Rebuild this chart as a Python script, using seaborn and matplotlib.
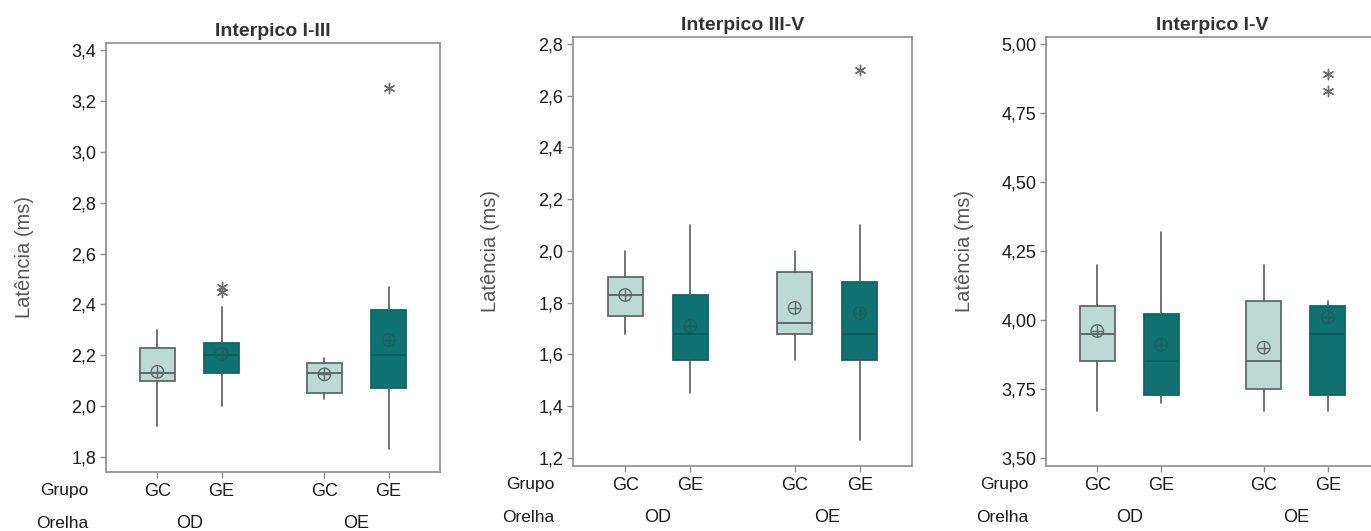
import numpy as np
import matplotlib.pyplot as plt
import seaborn as sns
from matplotlib.ticker import FuncFormatter

# categories
grupos = ['GC', 'GE', 'GC', 'GE']
orelhas = ['OD', 'OE']

# Interpico I-III (summary stats)
i_iii_q1 = [2.10, 2.13, 2.05, 2.07]
i_iii_med = [2.13, 2.20, 2.13, 2.20]
i_iii_q3 = [2.23, 2.25, 2.17, 2.38]
i_iii_lo = [1.92, 2.00, 2.03, 1.83]
i_iii_hi = [2.30, 2.39, 2.19, 2.47]
i_iii_mean = [2.135, 2.205, 2.125, 2.26]
i_iii_out = [[], [2.45, 2.47], [], [3.25]]

# Interpico III-V
iii_v_q1 = [1.75, 1.58, 1.68, 1.58]
iii_v_med = [1.83, 1.68, 1.72, 1.68]
iii_v_q3 = [1.90, 1.83, 1.92, 1.88]
iii_v_lo = [1.68, 1.45, 1.58, 1.27]
iii_v_hi = [2.00, 2.10, 2.00, 2.10]
iii_v_mean = [1.83, 1.71, 1.78, 1.76]
iii_v_out = [[], [], [], [2.70]]

# Interpico I-V
i_v_q1 = [3.85, 3.73, 3.75, 3.73]
i_v_med = [3.95, 3.85, 3.85, 3.95]
i_v_q3 = [4.05, 4.02, 4.07, 4.05]
i_v_lo = [3.67, 3.70, 3.67, 3.67]
i_v_hi = [4.20, 4.32, 4.20, 4.07]
i_v_mean = [3.96, 3.91, 3.90, 4.01]
i_v_out = [[], [], [], [4.83, 4.89]]

sns.set_style('white')
plt.rcParams['font.family'] = ['Liberation Sans', 'DejaVu Sans']

light = '#bcd9d4'
dark = '#0f7170'
edge_light = '#5d6b69'
edge_dark = '#0d6766'
gray = '#8c8c8c'

pos = [0, 1, 2.6, 3.6]
fills = [light, dark, light, dark]
edges = [edge_light, edge_dark, edge_light, edge_dark]
meds = ['#55605f', '#0b5f5e', '#55605f', '#0b5f5e']


def comma(dec):
    return FuncFormatter(lambda v, p: f'{v:.{dec}f}'.replace('.', ','))


def panel(ax, title, q1, med, q3, lo, hi, mean, out, ylim, yticks, dec):
    stats = [dict(q1=q1[i], med=med[i], q3=q3[i], whislo=lo[i], whishi=hi[i], fliers=[])
             for i in range(4)]
    bp = ax.bxp(stats, positions=pos, widths=0.54, patch_artist=True,
                showfliers=False, showcaps=False,
                whiskerprops=dict(color='#5a5a5a', lw=1.2),
                medianprops=dict(lw=1.3), boxprops=dict(lw=1.3))
    for i, b in enumerate(bp['boxes']):
        b.set_facecolor(fills[i])
        b.set_edgecolor(edges[i])
        bp['medians'][i].set_color(meds[i])

    # mean symbol (circle with a cross)
    for idx, c in (([0, 2], edge_light), ([1, 3], '#19615f')):
        xs = [pos[i] for i in idx]
        ys = [mean[i] for i in idx]
        sns.scatterplot(x=xs, y=ys, ax=ax, marker='o', s=80, facecolors='none',
                        edgecolor=c, linewidth=1.0, legend=False, zorder=5)
        sns.scatterplot(x=xs, y=ys, ax=ax, marker='+', s=80, color=c,
                        linewidth=1.0, legend=False, zorder=5)

    ox = [pos[i] for i in range(4) for v in out[i]]
    oy = [v for i in range(4) for v in out[i]]
    if ox:
        sns.scatterplot(x=ox, y=oy, ax=ax, marker=(6, 2, 0), s=55, color='#6a6a6a',
                        linewidth=1.0, legend=False, zorder=5)

    ax.set_xlim(-0.8, 4.4)
    ax.set_ylim(*ylim)
    ax.set_yticks(yticks)
    ax.yaxis.set_major_formatter(comma(dec))
    ax.set_xticks(pos)
    ax.set_xticklabels(grupos)
    ax.tick_params(axis='both', length=4, width=1, color=gray, labelsize=13,
                   labelcolor='#1a1a1a', left=True, bottom=True)
    ax.tick_params(axis='y', pad=3)
    ax.tick_params(axis='x', pad=4)
    for s in ax.spines.values():
        s.set_color(gray)
        s.set_linewidth(1.2)
    ax.set_title(title, fontsize=14, fontweight='bold', color='#333333', pad=5)
    ax.set_ylabel('Latência (ms)', fontsize=14.5, color='#555555')
    ax.yaxis.set_label_coords(-0.215, 0.5)

    tr = ax.get_xaxis_transform()
    ax.text(-1.08, -0.043, 'Grupo', transform=tr, ha='right', va='center',
            fontsize=12.5, color='#1a1a1a', clip_on=False)
    ax.text(-1.08, -0.12, 'Orelha', transform=tr, ha='right', va='center',
            fontsize=12.5, color='#1a1a1a', clip_on=False)
    ax.text((pos[0] + pos[1]) / 2, -0.12, orelhas[0], transform=tr, ha='center',
            va='center', fontsize=13, color='#1a1a1a', clip_on=False)
    ax.text((pos[2] + pos[3]) / 2, -0.12, orelhas[1], transform=tr, ha='center',
            va='center', fontsize=13, color='#1a1a1a', clip_on=False)


fig = plt.figure(figsize=(13.71, 5.31), dpi=100)
ax1 = fig.add_axes([106 / 1371, 1 - 472 / 531, 334 / 1371, 429 / 531])
ax2 = fig.add_axes([573 / 1371, 1 - 466 / 531, 339 / 1371, 429 / 531])
ax3 = fig.add_axes([1046 / 1371, 1 - 466 / 531, 333 / 1371, 429 / 531])

panel(ax1, 'Interpico I-III', i_iii_q1, i_iii_med, i_iii_q3, i_iii_lo, i_iii_hi,
      i_iii_mean, i_iii_out, (1.741, 3.428), np.arange(1.8, 3.41, 0.2), 1)
panel(ax2, 'Interpico III-V', iii_v_q1, iii_v_med, iii_v_q3, iii_v_lo, iii_v_hi,
      iii_v_mean, iii_v_out, (1.169, 2.827), np.arange(1.2, 2.81, 0.2), 1)
panel(ax3, 'Interpico I-V', i_v_q1, i_v_med, i_v_q3, i_v_lo, i_v_hi,
      i_v_mean, i_v_out, (3.471, 5.025), np.arange(3.5, 5.01, 0.25), 2)

fig.savefig('out.png', dpi=100)
